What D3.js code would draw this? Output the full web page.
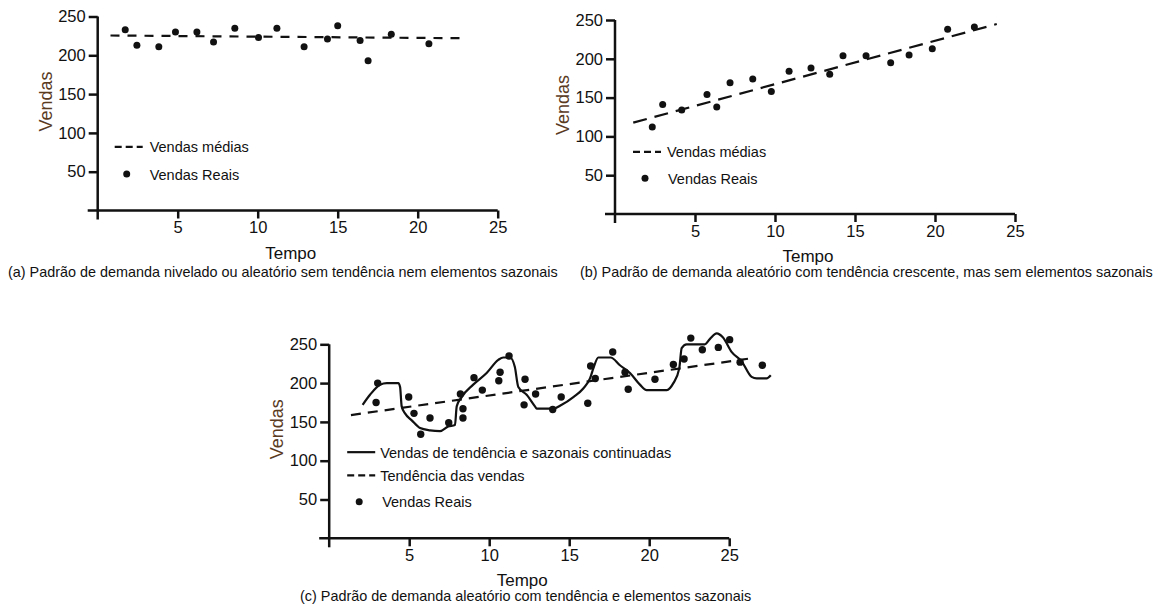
<!DOCTYPE html>
<html>
<head>
<meta charset="utf-8">
<script src="https://cdn.jsdelivr.net/npm/d3@7"></script>
<style>
  body { margin: 0; background: #fff; }
  svg { display: block; }
  text { font-family: "Liberation Sans", Arial, sans-serif; fill: #111; }
</style>
</head>
<body>
<svg id="chart" width="1162" height="608"></svg>
<script>
// Shared axis ticks
const ticksX = [5, 10, 15, 20, 25];
const ticksY = [50, 100, 150, 200, 250];

// (a) level demand
const tempoA  = [1.72, 2.45, 3.82, 4.86, 6.2, 7.24, 8.57, 10.05, 11.2, 12.9, 14.36, 15.0, 16.4, 16.9, 18.35, 20.7];
const vendasA = [233, 213, 211, 230, 230, 217, 235, 223, 235, 211, 221, 238, 219, 193, 227, 215];
const mediaTempoA  = [0.8, 22.8];
const mediaVendasA = [225.5, 222];

// (b) rising trend
const tempoB  = [2.33, 2.98, 4.17, 5.75, 6.36, 7.19, 8.61, 9.77, 10.88, 12.25, 13.42, 14.25, 15.69, 17.23, 18.38, 19.83, 20.79, 22.46];
const vendasB = [112, 141, 134, 154, 138, 169, 174, 158, 184, 188, 180, 204, 204, 195, 205, 213, 238, 241];
const mediaTempoB  = [1.14, 23.86];
const mediaVendasB = [117.7, 244.8];

// (c) trend + seasonality
const tempoC  = [3.03, 2.93, 4.97, 5.3, 6.3, 5.72, 7.47, 8.36, 8.36, 8.2, 9.05, 9.57, 10.68, 10.6, 11.24, 12.24, 12.18, 12.9,
                 13.97, 14.5, 16.16, 16.34, 16.63, 17.72, 18.49, 18.69, 20.36, 21.51, 22.18, 22.6, 23.32, 24.32, 25.03, 25.68, 27.07];
const vendasC = [200, 175, 182, 161, 155, 134, 149, 167, 155, 186, 207, 191, 214, 203, 235, 205, 172, 186,
                 166, 182, 174, 222, 206, 240, 214, 192, 205, 224, 231, 258, 243, 246, 256, 227, 223];
const tendTempoC  = [1.36, 26.6];
const tendVendasC = [158.8, 232.6];
const sazTempoC  = [2.09, 2.55, 3.18, 3.6, 4.32, 4.43, 4.53, 4.74, 5.16, 5.68, 6.3, 6.93, 7.44, 7.86, 7.97, 8.28, 9.0, 9.84,
                    10.57, 10.88, 11.3, 11.6, 11.82, 12.34, 12.86, 12.97, 13.97, 14.53, 15.26, 15.88, 16.3, 16.51, 16.82,
                    17.59, 18.17, 18.8, 19.42, 19.84, 21.1, 21.51, 21.88, 22.03, 22.34, 23.48, 23.8, 24.22, 24.6, 25.16,
                    25.78, 26.4, 26.72, 27.34, 27.6];
const sazVendasC = [172, 185, 198, 200, 200, 195, 170, 161, 152, 142, 139, 138, 144, 146, 170, 182, 198, 213,
                    230, 233, 233, 221, 195, 185, 170, 167, 167, 172, 182, 193, 206, 219, 233,
                    233, 223, 213, 198, 191, 191, 200, 219, 245, 250, 250, 257, 264, 259, 240,
                    228, 208, 206, 206, 210];

const svg = d3.select("#chart");
const FONT = '"Liberation Sans", Arial, sans-serif';

function panel(cfg) {
  const g = svg.append("g");
  const x = d3.scaleLinear().domain([0, 25]).range([cfg.x0, cfg.x0 + 400]);
  const y = d3.scaleLinear().domain([0, 250]).range([cfg.y0, cfg.y0 - 194]);

  // axes
  const ay = g.append("g").attr("transform", `translate(${cfg.x0},0)`)
    .call(d3.axisLeft(y).tickValues(ticksY).tickSize(9).tickPadding(3));
  const ax = g.append("g").attr("transform", `translate(0,${cfg.y0})`)
    .call(d3.axisBottom(x).tickValues(ticksX).tickSize(8).tickPadding(3));
  [ax, ay].forEach(a => {
    a.select(".domain").remove();
    a.selectAll("line").attr("stroke", "#111").attr("stroke-width", 2.5);
    a.selectAll("text").style("font-size", "16.5px").style("font-family", FONT).attr("fill", "#111");
  });
  g.append("line").attr("x1", cfg.x0).attr("x2", cfg.x0)
    .attr("y1", y(250)).attr("y2", cfg.y0 + 9)
    .attr("stroke", "#111").attr("stroke-width", 2.5);
  g.append("line").attr("x1", cfg.x0 - 10).attr("x2", x(25))
    .attr("y1", cfg.y0).attr("y2", cfg.y0)
    .attr("stroke", "#111").attr("stroke-width", 2.5);

  // axis titles & caption
  g.append("text").attr("transform", `translate(${cfg.x0 - 46},${y(125) - 12}) rotate(-90)`)
    .attr("text-anchor", "middle").style("font-size", "18px").style("fill", "#5a3b1f").text("Vendas");
  g.append("text").attr("x", (x(0) + x(25)) / 2 - 7).attr("y", cfg.y0 + 48)
    .attr("text-anchor", "middle").style("font-size", "17px").text("Tempo");
  g.append("text").attr("x", cfg.capX).attr("y", cfg.capY)
    .style("font-size", "14.4px").text(cfg.caption);

  // series
  if (cfg.curve) {
    g.append("path").datum(d3.zip(cfg.curve[0], cfg.curve[1]))
      .attr("d", d3.line().x(d => x(d[0])).y(d => y(d[1])).curve(d3.curveMonotoneX))
      .attr("fill", "none").attr("stroke", "#111").attr("stroke-width", 2.2)
      .attr("stroke-linejoin", "round");
  }
  g.append("path").datum(d3.zip(cfg.dash[0], cfg.dash[1]))
    .attr("d", d3.line().x(d => x(d[0])).y(d => y(d[1])))
    .attr("fill", "none").attr("stroke", "#111").attr("stroke-width", 2.2)
    .attr("stroke-dasharray", cfg.dashArray);
  g.selectAll("circle.pt").data(d3.zip(cfg.pts[0], cfg.pts[1])).join("circle")
    .attr("class", "pt").attr("cx", d => x(d[0])).attr("cy", d => y(d[1]))
    .attr("r", cfg.r).attr("fill", "#111");

  // legend
  cfg.legend.forEach(item => {
    const lx = x(0) + cfg.legX, ly = y(item.v);
    if (item.type === "dot") {
      g.append("circle").attr("cx", lx + 12).attr("cy", ly).attr("r", 3.5).attr("fill", "#111");
    } else {
      g.append("line").attr("x1", lx).attr("x2", lx + 28).attr("y1", ly).attr("y2", ly)
        .attr("stroke", "#111").attr("stroke-width", 2.2)
        .attr("stroke-dasharray", item.type === "dash" ? "7,4" : null);
    }
    g.append("text").attr("x", lx + item.tx).attr("y", ly + 5.5)
      .style("font-size", "14.5px").text(item.label);
  });
}

panel({
  x0: 97.7, y0: 210.5, capX: 8, capY: 277, r: 3.5,
  caption: "(a) Padrão de demanda nivelado ou aleatório sem tendência nem elementos sazonais",
  pts: [tempoA, vendasA], dash: [mediaTempoA, mediaVendasA], dashArray: "9,8",
  legX: 17,
  legend: [
    { type: "dash", v: 82, tx: 35, label: "Vendas médias" },
    { type: "dot",  v: 47, tx: 35, label: "Vendas Reais" }
  ]
});

panel({
  x0: 615, y0: 214, capX: 580, capY: 277, r: 3.5,
  caption: "(b) Padrão de demanda aleatório com tendência crescente, mas sem elementos sazonais",
  pts: [tempoB, vendasB], dash: [mediaTempoB, mediaVendasB], dashArray: "14,8",
  legX: 18,
  legend: [
    { type: "dash", v: 80, tx: 34, label: "Vendas médias" },
    { type: "dot",  v: 46, tx: 35, label: "Vendas Reais" }
  ]
});

panel({
  x0: 329.2, y0: 538.3, capX: 300, capY: 601, r: 3.7,
  caption: "(c) Padrão de demanda aleatório com tendência e elementos sazonais",
  pts: [tempoC, vendasC], dash: [tendTempoC, tendVendasC], dashArray: "10,7",
  curve: [sazTempoC, sazVendasC],
  legX: 18,
  legend: [
    { type: "solid", v: 111, tx: 33, label: "Vendas de tendência e sazonais continuadas" },
    { type: "dash",  v: 81,  tx: 33, label: "Tendência das vendas" },
    { type: "dot",   v: 47,  tx: 35, label: "Vendas Reais" }
  ]
});
</script>
</body>
</html>
